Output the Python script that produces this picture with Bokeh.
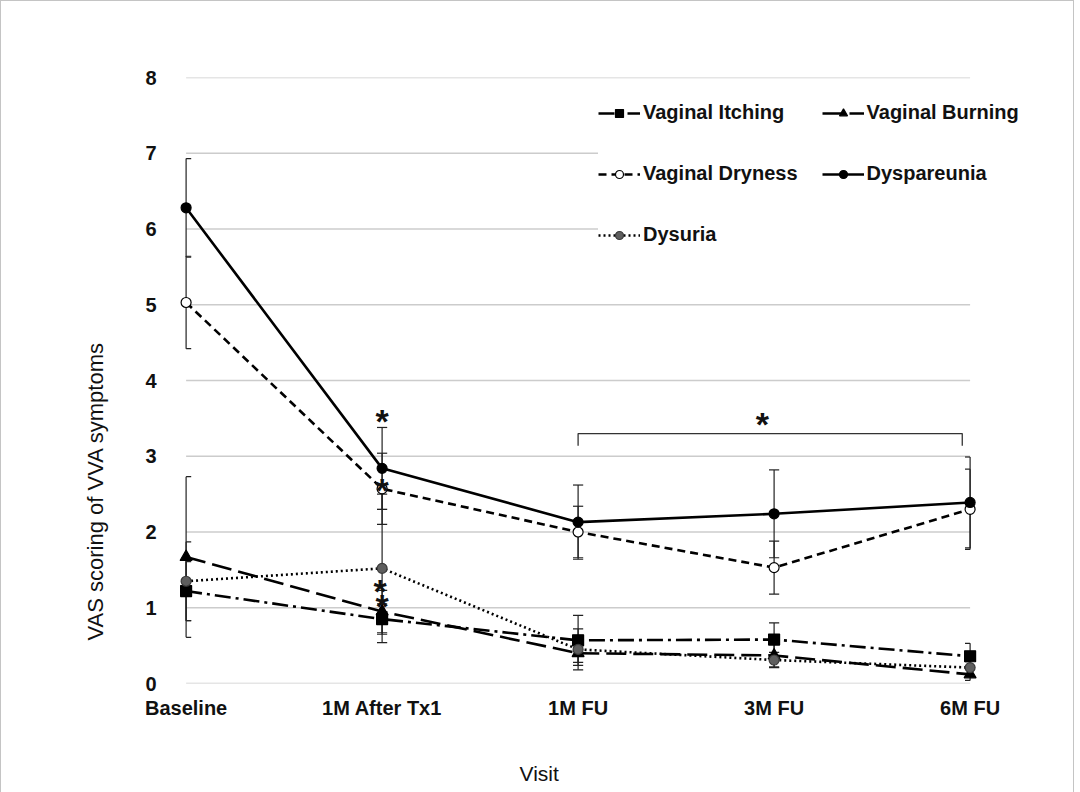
import numpy as np
from bokeh.plotting import figure
from bokeh.models import Range1d, Legend, LegendItem, Title, FixedTicker
from bokeh.embed import file_html
from bokeh.resources import INLINE
from bokeh.core.properties import value

# ---------------- data ----------------
visits = ["Baseline", "1M After Tx1", "1M FU", "3M FU", "6M FU"]
y_ticks = [0, 1, 2, 3, 4, 5, 6, 7, 8]

itching = [1.22, 0.85, 0.57, 0.58, 0.36]
itching_err = [0.39, 0.20, 0.33, 0.22, 0.17]

burning = [1.67, 0.95, 0.40, 0.37, 0.12]
burning_err = [1.06, 0.28, 0.12, 0.15, 0.08]

dryness = [5.03, 2.57, 2.00, 1.53, 2.30]
dryness_err = [0.61, 0.47, 0.34, 0.35, 0.53]

dyspareunia = [6.28, 2.84, 2.13, 2.24, 2.39]
dyspareunia_err = [0.65, 0.54, 0.49, 0.58, 0.60]

dysuria = [1.35, 1.52, 0.45, 0.31, 0.21]
dysuria_err = [0.52, 0.98, 0.27, 0.10, 0.08]

# significance annotations (visit index, score)
star_x = [1.0, 1.0, 0.99, 1.0, 2.94]
star_y = [3.51, 2.60, 1.27, 1.07, 3.47]
bracket_x = [2.0, 3.96]
bracket_y = 3.30
bracket_drop = 0.16

FONT = "Liberation Sans"

xs = np.arange(len(visits), dtype=float)
x_lo, x_hi = 0.0, float(len(visits) - 1)

p = figure(
    output_backend="svg", toolbar_location=None,
    frame_width=882, frame_height=606,
    min_border_left=165, min_border_right=25,
    min_border_top=76, min_border_bottom=102,
    x_range=Range1d(-0.1, 4.4), y_range=Range1d(0, 8),
    background_fill_color="white", border_fill_color="white",
    styles={"border": "1px solid #c4c4c4"},
)
p.outline_line_color = None
p.grid.visible = False

# gridlines drawn only across the category span
p.segment(x0=[x_lo] * len(y_ticks), x1=[x_hi] * len(y_ticks),
          y0=y_ticks, y1=y_ticks, line_color="#cccccc", line_width=1.6)

series = [
    ("Vaginal Itching", itching, itching_err,
     dict(line_dash="16 5 3 5", marker="square", size=11, fill="black", outline="black")),
    ("Vaginal Burning", burning, burning_err,
     dict(line_dash="20 7", marker="triangle", size=12, fill="black", outline="black")),
    ("Vaginal Dryness", dryness, dryness_err,
     dict(line_dash="8 5", marker="circle", size=10, fill="white", outline="black")),
    ("Dyspareunia", dyspareunia, dyspareunia_err,
     dict(line_dash="solid", marker="circle", size=10, fill="black", outline="black")),
    ("Dysuria", dysuria, dysuria_err,
     dict(line_dash="2 3", marker="circle", size=10, fill="#5e5e5e", outline="#3a3a3a")),
]

cap = 0.026
items = []
for name, vals, errs, st in series:
    v = np.array(vals)
    e = np.array(errs)
    lo = v - e
    hi = v + e
    p.segment(x0=xs, x1=xs, y0=lo, y1=hi, line_color="#222222", line_width=1.2)
    cx0 = np.clip(xs - cap, x_lo, x_hi)
    cx1 = np.clip(xs + cap, x_lo, x_hi)
    p.segment(x0=np.concatenate([cx0, cx0]), x1=np.concatenate([cx1, cx1]),
              y0=np.concatenate([lo, hi]), y1=np.concatenate([lo, hi]),
              line_color="#222222", line_width=1.2)

for name, vals, errs, st in series:
    ln = p.line(xs, vals, line_color="black", line_width=2.6, line_dash=st["line_dash"])
    sc = p.scatter(xs, vals, marker=st["marker"], size=st["size"],
                   fill_color=st["fill"], line_color=st["outline"], line_width=1.2)
    items.append(LegendItem(label=name, renderers=[ln, sc]))

# significance markers
p.text(x=star_x, y=[y - 0.05 for y in star_y], text=["*"] * len(star_x),
       text_font=value(FONT), text_font_style="bold", text_font_size="34px",
       text_align="center", text_baseline="middle", text_color="#111111")
p.line(x=[bracket_x[0], bracket_x[0], bracket_x[1], bracket_x[1]],
       y=[bracket_y - bracket_drop, bracket_y, bracket_y, bracket_y - bracket_drop],
       line_color="#333333", line_width=1.3)

legend = Legend(items=items, orientation="horizontal", ncols=2,
                location=(432, 430),
                glyph_width=42, glyph_height=20, label_height=37,
                label_standoff=3, spacing=24, padding=8,
                label_text_font=FONT, label_text_font_style="bold",
                label_text_font_size="20px", label_text_color="#111111",
                border_line_color=None, background_fill_color="white",
                background_fill_alpha=1.0)
p.add_layout(legend, "center")

# axes
p.xaxis.ticker = FixedTicker(ticks=list(range(len(visits))))
p.xaxis.major_label_overrides = {i: v for i, v in enumerate(visits)}
p.yaxis.ticker = FixedTicker(ticks=y_ticks)
for ax in (p.xaxis, p.yaxis):
    ax.axis_line_color = None
    ax.major_tick_line_color = None
    ax.minor_tick_line_color = None
    ax.major_label_text_font = FONT
    ax.major_label_text_font_style = "bold"
    ax.major_label_text_font_size = "20px"
    ax.major_label_text_color = "#111111"
p.xaxis.major_label_standoff = 7
p.yaxis.major_label_standoff = 4

p.add_layout(Title(text="VAS scoring of VVA symptoms", align="left", offset=43,
                   standoff=70, text_font=FONT, text_font_size="22px",
                   text_font_style="normal", text_color="#111111"), "left")
p.add_layout(Title(text="Visit", align="left", offset=353, standoff=76,
                   text_font=FONT, text_font_size="21px",
                   text_font_style="normal", text_color="#111111"), "below")

open("out.html", "w").write(file_html(p, INLINE))
